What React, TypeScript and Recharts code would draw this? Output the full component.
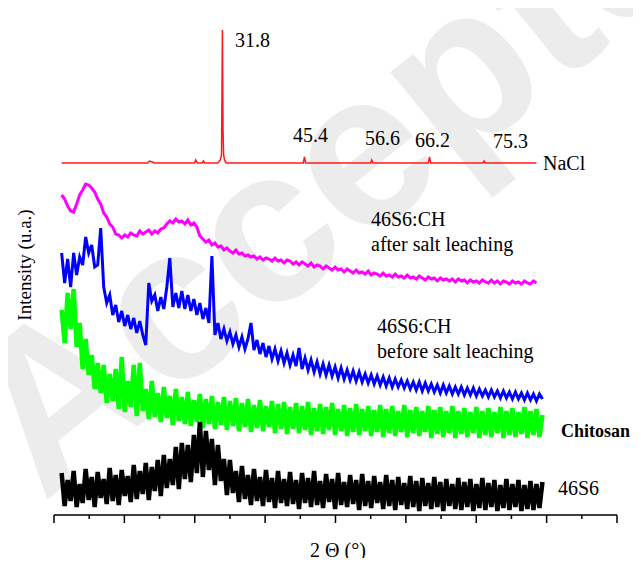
import { LineChart, Line, XAxis, YAxis } from 'recharts';

// XRD patterns, intensity in arbitrary units (stacked offsets)
const THETA_START = 5;
const THETA_STEP = 0.5;

const NACL_T = [5, 19.3, 19.6, 20.1, 20.4, 27.1, 27.3, 27.6, 28.4, 28.6, 28.8, 31.0, 31.4, 31.6, 31.75, 31.85, 31.95, 32.1, 32.4, 45.2, 45.4, 45.6, 56.4, 56.6, 56.8, 66.0, 66.2, 66.4, 75.1, 75.3, 75.5, 84];
const NACL_I = [352, 352, 354, 353, 352, 352, 355, 352, 352, 354, 352, 352, 355, 360, 485, 385, 360, 355, 352, 352, 358, 352, 352, 355, 352, 352, 358, 352, 352, 354, 352, 352];

const AFTER_LEACH = [
  320, 316, 309, 304, 303, 311, 320, 325, 331, 330, 327, 323, 316, 311, 302, 298, 291, 288, 281, 280,
  277, 280, 278, 282, 280, 279, 284, 281, 283, 285, 281, 284, 282, 286, 287, 291, 294, 292, 296, 293,
  294, 291, 295, 290, 292, 288, 279, 276, 273, 275, 270, 272, 268, 269, 265, 267, 264, 262, 265, 261,
  262, 259, 260, 258, 259, 256, 258, 255, 257, 256, 254, 257, 254, 255, 252, 255, 254, 251, 253, 250,
  253, 251, 249, 252, 248, 250, 249, 246, 249, 247, 245, 248, 245, 246, 243, 246, 244, 242, 245, 242,
  243, 241, 244, 240, 242, 241, 239, 242, 239, 240, 238, 241, 238, 239, 237, 240, 237, 238, 236, 239,
  237, 235, 238, 236, 237, 234, 237, 235, 236, 234, 236, 233, 236, 234, 235, 232, 235, 233, 234, 232,
  235, 233, 232, 235, 232, 234, 231, 234, 233, 231, 234, 232, 233, 231, 234, 232, 231, 234, 232,
];

const BEFORE_LEACH = [
  262, 232, 256, 228, 262, 240, 258, 250, 278, 262, 270, 248, 250, 287, 228, 212, 220, 200, 210, 193,
  204, 189, 200, 186, 197, 182, 194, 180, 170, 232, 214, 220, 204, 218, 206, 228, 257, 208, 222, 207,
  224, 206, 220, 204, 216, 200, 212, 196, 207, 192, 259, 180, 192, 176, 186, 174, 183, 171, 180, 168,
  178, 166, 176, 192, 165, 175, 161, 172, 158, 169, 156, 166, 154, 164, 152, 162, 150, 160, 149, 167,
  146, 157, 145, 155, 143, 153, 141, 151, 140, 150, 139, 148, 137, 147, 136, 145, 135, 144, 134, 143,
  133, 141, 132, 140, 131, 139, 130, 138, 129, 137, 128, 136, 128, 135, 127, 134, 126, 133, 125, 133,
  124, 132, 124, 131, 123, 130, 122, 130, 122, 129, 121, 128, 121, 128, 120, 127, 120, 127, 119, 126,
  119, 125, 118, 125, 118, 124, 117, 124, 117, 123, 116, 123, 116, 122, 115, 122, 115, 121, 114, 121,
  116,
];

const CHITOSAN = [
  205, 172, 222, 186, 226, 168, 192, 146, 176, 140, 160, 126, 152, 122, 150, 112, 141, 114, 146, 106,
  158, 103, 134, 108, 150, 99, 152, 104, 126, 96, 134, 98, 122, 93, 128, 97, 119, 90, 126, 94,
  118, 91, 123, 89, 115, 93, 121, 87, 116, 91, 119, 86, 113, 90, 118, 85, 114, 89, 117, 84,
  112, 88, 116, 83, 110, 87, 115, 84, 109, 88, 114, 82, 111, 86, 113, 81, 108, 86, 112, 82,
  109, 85, 113, 80, 107, 84, 111, 81, 108, 85, 112, 80, 106, 84, 110, 79, 107, 83, 111, 80,
  106, 84, 109, 79, 105, 83, 110, 78, 106, 82, 109, 79, 104, 83, 110, 78, 105, 82, 108, 79,
  104, 83, 109, 77, 105, 81, 108, 78, 104, 82, 109, 77, 104, 81, 107, 78, 103, 82, 108, 77,
  104, 80, 107, 78, 103, 82, 108, 77, 104, 80, 107, 78, 103, 81, 108, 77, 104, 80, 106, 78,
  100,
];

const BIOGLASS = [
  42, 9, 35, 14, 44, 8, 31, 12, 46, 15, 38, 8, 43, 17, 36, 11, 47, 14, 40, 10,
  45, 19, 39, 13, 50, 16, 44, 21, 52, 15, 48, 24, 55, 19, 60, 27, 56, 30, 68, 26,
  72, 36, 70, 33, 80, 42, 93, 38, 84, 45, 76, 30, 70, 34, 56, 20, 55, 22, 44, 13,
  49, 16, 40, 10, 46, 14, 38, 9, 45, 13, 37, 7, 44, 12, 36, 9, 43, 11, 35, 6,
  42, 12, 37, 8, 44, 10, 34, 7, 41, 13, 36, 6, 42, 10, 33, 8, 40, 11, 35, 5,
  41, 9, 34, 7, 39, 12, 33, 6, 40, 9, 35, 5, 38, 10, 32, 6, 39, 8, 34, 4,
  37, 9, 32, 6, 38, 8, 33, 4, 36, 9, 31, 6, 37, 5, 33, 8, 36, 4, 31, 7,
  37, 5, 32, 8, 35, 4, 30, 7, 36, 5, 31, 8, 35, 4, 30, 6, 34, 5, 31, 7,
  33,
];

const X_DOMAIN: [number, number] = [3.73, 97.4];
const X_TICKS = Array.from({ length: 17 }, (_, k) => X_DOMAIN[0] + (k * (X_DOMAIN[1] - X_DOMAIN[0])) / 16);

const toPoints = (arr: number[]) => arr.map((v, i) => ({ t: THETA_START + THETA_STEP * i, v }));
const naclPoints = NACL_T.map((t, i) => ({ t, v: NACL_I[i] }));

const serif = '"Liberation Serif", "Times New Roman", serif';

function AxisTick(props: any) {
  const { x, y, index } = props;
  const len = index % 2 === 0 ? 8 : 4;
  return <line x1={x} x2={x} y1={y} y2={y + len} stroke="#000" strokeWidth={1.5} />;
}

export default function App() {
  const W = 625;
  const H = 550;
  return (
    <div style={{ position: 'relative', width: W, height: H }}>
      <svg width={633} height={558} style={{ position: 'absolute', left: 0, top: 0, overflow: 'hidden' }}>
        <text
          x={0}
          y={0}
          transform="translate(35 495) rotate(-39)"
          fontFamily='"Liberation Sans", Arial, sans-serif'
          fontWeight="bold"
          fontSize={220}
          fill="#ececec"
        >
          Accepted
        </text>
      </svg>
      <div style={{ position: 'relative' }}>
        <LineChart width={W} height={H} margin={{ top: 6, right: 16, left: 46, bottom: 0 }}>
          <XAxis
            type="number"
            dataKey="t"
            domain={X_DOMAIN}
            ticks={X_TICKS}
            interval={0}
            allowDataOverflow
            height={43}
            tickSize={0}
            tickMargin={0}
            tickLine={false}
            tick={AxisTick}
            axisLine={{ stroke: '#000', strokeWidth: 1.5 }}
          />
          <YAxis
            type="number"
            domain={[0, 501]}
            allowDataOverflow
            width={0}
            tick={false}
            tickLine={false}
            axisLine={{ stroke: '#000', strokeWidth: 1.5 }}
          />
          <Line data={naclPoints} dataKey="v" stroke="#ff1a1a" strokeWidth={1.5} dot={false} isAnimationActive={false} />
          <Line data={toPoints(AFTER_LEACH)} dataKey="v" stroke="#ff00ff" strokeWidth={3} dot={false} isAnimationActive={false} />
          <Line data={toPoints(BEFORE_LEACH)} dataKey="v" stroke="#0000ff" strokeWidth={3} dot={false} isAnimationActive={false} />
          <Line data={toPoints(CHITOSAN)} dataKey="v" stroke="#00ff00" strokeWidth={4.5} dot={false} isAnimationActive={false} />
          <Line data={toPoints(BIOGLASS)} dataKey="v" stroke="#000000" strokeWidth={4.5} dot={false} isAnimationActive={false} />
        </LineChart>
      </div>
      <svg width={633} height={558} style={{ position: 'absolute', left: 0, top: 0, overflow: 'visible', pointerEvents: 'none' }}>
        <g fontFamily={serif} fontSize={20} fill="#000">
          <text x={227} y={39}>31.8</text>
          <text x={285} y={134}>45.4</text>
          <text x={357} y={137}>56.6</text>
          <text x={407} y={139}>66.2</text>
          <text x={485} y={140}>75.3</text>
          <text x={535} y={162}>NaCl</text>
          <text x={363} y={218}>46S6:CH</text>
          <text x={363} y={243}>after salt leaching</text>
          <text x={369} y={325}>46S6:CH</text>
          <text x={369} y={350}>before salt leaching</text>
          <text x={553} y={429} fontWeight="bold" fontSize={18}>Chitosan</text>
          <text x={550} y={487}>46S6</text>
          <text x={330} y={549} textAnchor="middle">2 Θ (°)</text>
          <text transform="translate(23 257) rotate(-90)" textAnchor="middle" fontSize={19}>Intensity (u.a.)</text>
        </g>
      </svg>
    </div>
  );
}
